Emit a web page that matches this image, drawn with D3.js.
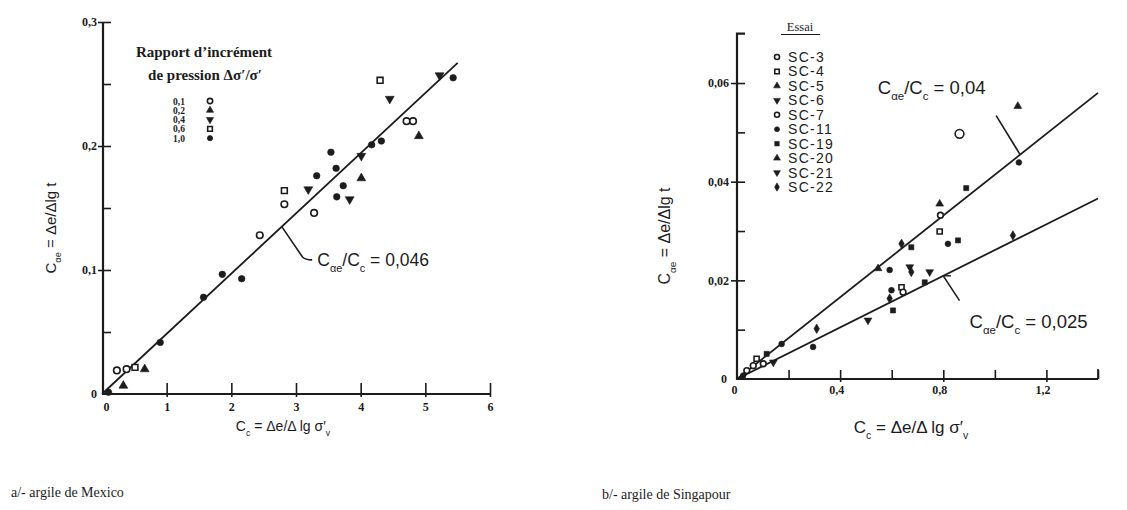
<!DOCTYPE html>
<html><head><meta charset="utf-8">
<script src="https://cdn.jsdelivr.net/npm/d3@7"></script>
<style>body{margin:0;background:#fff}</style>
</head><body>
<svg id="c" width="1127" height="510"></svg>
<script>
// ---------- (a) argile de Mexico ----------
const mexRatioLabels = ["0,1", "0,2", "0,4", "0,6", "1,0"];
const mexCc  = [4.30, 4.45, 5.22, 5.43, 4.71, 4.81, 4.90, 4.32, 4.17, 4.01, 3.54, 3.62, 4.01, 3.32, 3.19, 3.73, 3.63, 3.83, 3.28, 2.82, 2.82, 2.44, 2.16, 1.86, 1.57, 0.90, 0.23, 0.38, 0.51, 0.66, 0.33, 0.10];
const mexCae = [0.253, 0.238, 0.257, 0.255, 0.220, 0.220, 0.208, 0.204, 0.201, 0.192, 0.195, 0.182, 0.174, 0.176, 0.165, 0.168, 0.159, 0.157, 0.146, 0.164, 0.153, 0.128, 0.093, 0.0965, 0.078, 0.0416, 0.019, 0.020, 0.0215, 0.020, 0.0067, 0.0014];
const mexRatio = ["0,6", "0,4", "0,4", "1,0", "0,1", "0,1", "0,2", "1,0", "1,0", "0,4", "1,0", "1,0", "0,2", "1,0", "0,4", "1,0", "1,0", "0,4", "0,1", "0,6", "0,1", "0,1", "1,0", "1,0", "1,0", "1,0", "0,1", "0,1", "0,6", "0,2", "0,2", "1,0"];
const mexFitCc  = [0, 5.5];
const mexFitCae = [0, 0.267];
const mexXTicks = [0, 1, 2, 3, 4, 5, 6];
const mexXTickLabels = ["0", "1", "2", "3", "4", "5", "6"];
const mexYTicks = [0, 0.05, 0.1, 0.15, 0.2, 0.25, 0.3];
const mexYTickLabels = ["0", "", "0,1", "", "0,2", "", "0,3"];

// ---------- (b) argile de Singapour ----------
const sgTests = ["SC-3", "SC-4", "SC-5", "SC-6", "SC-7", "SC-11", "SC-19", "SC-20", "SC-21", "SC-22"];
const sgCc  = [1.089, 0.863, 1.093, 1.070, 0.889, 0.786, 0.789, 0.786, 0.818, 0.857, 0.638, 0.676, 0.547, 0.592, 0.670, 0.676, 0.747, 0.728, 0.638, 0.599, 0.644, 0.592, 0.605, 0.508, 0.309, 0.295, 0.173, 0.115, 0.141, 0.076, 0.102, 0.063, 0.038, 0.024];
const sgCae = [0.0553, 0.0497, 0.0439, 0.0291, 0.0387, 0.0355, 0.0332, 0.0299, 0.0274, 0.0281, 0.0274, 0.0267, 0.0224, 0.0221, 0.0227, 0.0217, 0.0217, 0.0196, 0.0186, 0.0180, 0.0176, 0.0163, 0.0139, 0.0119, 0.0102, 0.0065, 0.0071, 0.0051, 0.0034, 0.0041, 0.0031, 0.0027, 0.0017, 0.0007];
const sgTest = ["SC-20", "SC-7", "SC-11", "SC-22", "SC-19", "SC-5", "SC-3", "SC-4", "SC-11", "SC-19", "SC-22", "SC-19", "SC-20", "SC-11", "SC-6", "SC-22", "SC-21", "SC-19", "SC-4", "SC-11", "SC-3", "SC-22", "SC-19", "SC-21", "SC-22", "SC-11", "SC-11", "SC-19", "SC-21", "SC-4", "SC-3", "SC-7", "SC-3", "SC-11"];
const sgFitCc    = [0, 1.4];
const sgFitUpper = [0, 0.058];
const sgFitLower = [0, 0.0366];
const sgXTicks = [0, 0.2, 0.4, 0.6, 0.8, 1.0, 1.2, 1.4];
const sgXTickLabels = ["0", "", "0,4", "", "0,8", "", "1,2", ""];
const sgYTicks = [0, 0.01, 0.02, 0.03, 0.04, 0.05, 0.06];
const sgYTickLabels = ["0", "", "0,02", "", "0,04", "", "0,06"];

// ---------- drawing ----------
const INK = "#1c1c1c";
const svg = d3.select("#c");
svg.append("rect").attr("width", 1127).attr("height", 510).attr("fill", "#fff");

const SERIF = "'Liberation Serif', 'DejaVu Serif', serif";
const SANS = "'Liberation Sans', Arial, sans-serif";

function sym(g, x, y, style, size) {
  const p = d3.symbol().type(style.type).size(size)();
  g.append("path").attr("d", p)
    .attr("transform", `translate(${x},${y})${style.inv ? " rotate(180)" : ""}`)
    .attr("fill", style.fill ? INK : "#fff")
    .attr("stroke", INK).attr("stroke-width", style.fill ? 0.6 : 1.6);
}

function formula(g, x, y, parts, size, attrs) {
  const t = g.append("text").attr("x", x).attr("y", y)
    .attr("font-family", SANS).attr("font-size", size).attr("fill", INK);
  Object.entries(attrs || {}).forEach(([k, v]) => t.attr(k, v));
  parts.forEach(p => {
    const s = t.append("tspan").text(p.t);
    if (p.sub) s.attr("font-size", size * 0.62).attr("baseline-shift", "sub");
  });
  return t;
}

// ===== Panel a =====
const xL = d3.scaleLinear().domain([0, 6]).range([102, 490]);
const yL = d3.scaleLinear().domain([0, 0.3]).range([394, 22]);
const gA = svg.append("g");

const axXL = gA.append("g").attr("transform", `translate(0,${yL(0)})`)
  .call(d3.axisBottom(xL).tickValues(mexXTicks).tickFormat((d, i) => mexXTickLabels[i]).tickSize(3).tickPadding(5));
axXL.select(".domain").remove();
axXL.selectAll(".tick line").attr("y1", d => d === 0 ? 0 : -11).attr("y2", d => d === 0 ? 0 : 3)
  .attr("stroke", INK).attr("stroke-width", 1.6);
axXL.selectAll(".tick text").attr("font-family", SERIF).attr("font-weight", "bold")
  .attr("font-size", 12).attr("fill", INK).attr("dx", d => d === 0 ? 4 : 0);
gA.append("line").attr("x1", xL(0)).attr("x2", xL(6)).attr("y1", yL(0)).attr("y2", yL(0))
  .attr("stroke", INK).attr("stroke-width", 2.2);

const axYL = gA.append("g").attr("transform", `translate(${xL(0) + 1},0)`)
  .call(d3.axisLeft(yL).tickValues(mexYTicks).tickFormat((d, i) => mexYTickLabels[i]).tickSize(5).tickPadding(3));
axYL.select(".domain").remove();
axYL.selectAll(".tick line").attr("x1", (d, i) => d === 0 ? 0 : (mexYTickLabels[i] ? -5 : 0)).attr("x2", d => d === 0 ? 0 : 8)
  .attr("stroke", INK).attr("stroke-width", 1.6);
axYL.selectAll(".tick text").attr("font-family", SERIF).attr("font-weight", "bold")
  .attr("font-size", 12).attr("fill", INK).attr("x", -6);
gA.append("line").attr("x1", xL(0) + 1).attr("x2", xL(0) + 1).attr("y1", yL(0) + 1).attr("y2", yL(0.3))
  .attr("stroke", INK).attr("stroke-width", 2.2);

gA.append("line").attr("x1", xL(mexFitCc[0])).attr("y1", yL(mexFitCae[0]))
  .attr("x2", xL(mexFitCc[1])).attr("y2", yL(mexFitCae[1]))
  .attr("stroke", INK).attr("stroke-width", 1.8);

const mexStyle = {
  "0,1": {type: d3.symbolCircle, fill: false},
  "0,2": {type: d3.symbolTriangle, fill: true},
  "0,4": {type: d3.symbolTriangle, fill: true, inv: true},
  "0,6": {type: d3.symbolSquare, fill: false},
  "1,0": {type: d3.symbolCircle, fill: true}
};
mexCc.forEach((c, i) => sym(gA, xL(c), yL(mexCae[i]), mexStyle[mexRatio[i]], 34));

const slopeA = mexFitCae[1] / mexFitCc[1];
const lp = d3.path();
lp.moveTo(xL(2.78), yL(2.78 * slopeA));
lp.lineTo(xL(3.10), yL(0.1105));
lp.quadraticCurveTo(xL(3.14), yL(0.1082), xL(3.25), yL(0.1082));
gA.append("path").attr("d", lp.toString()).attr("fill", "none").attr("stroke", INK).attr("stroke-width", 1.6);
formula(gA, xL(3.33), yL(0.1035), [{t: "C"}, {t: "αe", sub: true}, {t: "/C"}, {t: "c", sub: true}, {t: " = 0,046"}], 17.5);

// legend
gA.append("text").attr("x", 204).attr("y", 57).attr("text-anchor", "middle")
  .attr("font-family", SERIF).attr("font-weight", "bold").attr("font-size", 15).attr("fill", INK)
  .text("Rapport d’incrément");
gA.append("text").attr("x", 205).attr("y", 80).attr("text-anchor", "middle")
  .attr("font-family", SERIF).attr("font-weight", "bold").attr("font-size", 15).attr("fill", INK)
  .text("de pression Δσ′/σ′");
mexRatioLabels.forEach((l, i) => {
  const y = 101 + i * 9.3;
  gA.append("text").attr("x", 179).attr("y", y + 3.5).attr("text-anchor", "middle")
    .attr("font-family", SERIF).attr("font-weight", "bold").attr("font-size", 9.5).attr("fill", INK).text(l);
  sym(gA, 210, y, mexStyle[l], 22);
});

formula(gA, 0, 0, [{t: "C"}, {t: "αe", sub: true}, {t: " = Δe/Δlg t"}], 15,
  {transform: "translate(56,228) rotate(-90)", "text-anchor": "middle"});
formula(gA, 283, 431, [{t: "C"}, {t: "c", sub: true}, {t: " = Δe/Δ lg σ′"}, {t: "v", sub: true}], 14,
  {"text-anchor": "middle"});

svg.append("text").attr("x", 11).attr("y", 497).attr("font-family", SERIF).attr("font-size", 14)
  .attr("fill", INK).text("a/- argile de Mexico");

// ===== Panel b =====
const xR = d3.scaleLinear().domain([0, 1.4]).range([737, 1098]);
const yR = d3.scaleLinear().domain([0, 0.07]).range([379, 33.7]);
const gB = svg.append("g");

const axXR = gB.append("g").attr("transform", `translate(0,${yR(0)})`)
  .call(d3.axisBottom(xR).tickValues(sgXTicks).tickFormat((d, i) => sgXTickLabels[i]).tickSize(3).tickPadding(3));
axXR.select(".domain").remove();
axXR.selectAll(".tick line").attr("y1", d => d === 0 ? 0 : -9).attr("y2", (d, i) => (d === 0 ? 0 : (sgXTickLabels[i] ? 3 : 0)))
  .attr("stroke", INK).attr("stroke-width", 1.6);
axXR.selectAll(".tick text").attr("font-family", SERIF).attr("font-weight", "bold")
  .attr("font-size", 12).attr("fill", INK).attr("dx", d => d === 0 ? -3 : -4);
gB.append("line").attr("x1", xR(0)).attr("x2", xR(1.4)).attr("y1", yR(0)).attr("y2", yR(0))
  .attr("stroke", INK).attr("stroke-width", 2.2);

const axYR = gB.append("g").attr("transform", `translate(${xR(0)},0)`)
  .call(d3.axisLeft(yR).tickValues(sgYTicks).tickFormat((d, i) => sgYTickLabels[i]).tickSize(6).tickPadding(3));
axYR.select(".domain").remove();
axYR.selectAll(".tick line").attr("x1", (d, i) => d === 0 ? 0 : (sgYTickLabels[i] ? -6 : 0)).attr("x2", d => d === 0 ? 0 : 8)
  .attr("stroke", INK).attr("stroke-width", 1.6);
axYR.selectAll(".tick text").attr("font-family", SERIF).attr("font-weight", "bold")
  .attr("font-size", 12).attr("fill", INK).attr("x", d => d === 0 ? -10 : -8);
gB.append("path")
  .attr("d", `M${xR(0)},${yR(0) + 1}V${yR(0.07)}h8`)
  .attr("fill", "none").attr("stroke", INK).attr("stroke-width", 2.2);
gB.append("line").attr("x1", xR(1.4)).attr("x2", xR(1.4)).attr("y1", yR(0)).attr("y2", yR(0) - 10)
  .attr("stroke", INK).attr("stroke-width", 1.6);

[sgFitUpper, sgFitLower].forEach(f => {
  gB.append("line").attr("x1", xR(sgFitCc[0])).attr("y1", yR(f[0]))
    .attr("x2", xR(sgFitCc[1])).attr("y2", yR(f[1]))
    .attr("stroke", INK).attr("stroke-width", 1.8);
});

const sgStyle = {
  "SC-3":  {type: d3.symbolCircle, fill: false},
  "SC-4":  {type: d3.symbolSquare, fill: false},
  "SC-5":  {type: d3.symbolTriangle, fill: true},
  "SC-6":  {type: d3.symbolTriangle, fill: true, inv: true},
  "SC-7":  {type: d3.symbolCircle, fill: false},
  "SC-11": {type: d3.symbolCircle, fill: true},
  "SC-19": {type: d3.symbolSquare, fill: true},
  "SC-20": {type: d3.symbolTriangle, fill: true},
  "SC-21": {type: d3.symbolTriangle, fill: true, inv: true},
  "SC-22": {type: d3.symbolDiamond, fill: true}
};
sgCc.forEach((c, i) => sym(gB, xR(c), yR(sgCae[i]), sgStyle[sgTest[i]], sgTest[i] === "SC-7" && i === 1 ? 60 : 26));

const su = sgFitUpper[1] / sgFitCc[1], sl = sgFitLower[1] / sgFitCc[1];
gB.append("line").attr("x1", xR(1.098)).attr("y1", yR(1.098 * su)).attr("x2", xR(1.005)).attr("y2", yR(0.0534))
  .attr("stroke", INK).attr("stroke-width", 1.6);
gB.append("line").attr("x1", xR(0.80)).attr("y1", yR(0.80 * sl)).attr("x2", xR(0.863)).attr("y2", yR(0.0159))
  .attr("stroke", INK).attr("stroke-width", 1.6);
gB.append("line").attr("x1", xR(0.80)).attr("y1", yR(0.80 * sl)).attr("x2", xR(0.83)).attr("y2", yR(0.80 * sl))
  .attr("stroke", INK).attr("stroke-width", 1.4);
formula(gB, xR(0.546), yR(0.0578), [{t: "C"}, {t: "αe", sub: true}, {t: "/C"}, {t: "c", sub: true}, {t: " = 0,04"}], 18.5);
formula(gB, xR(0.902), yR(0.0103), [{t: "C"}, {t: "αe", sub: true}, {t: "/C"}, {t: "c", sub: true}, {t: " = 0,025"}], 18.5);

gB.append("text").attr("x", 800).attr("y", 31).attr("text-anchor", "middle")
  .attr("font-family", SERIF).attr("font-size", 12.5).attr("fill", INK).text("Essai");
gB.append("line").attr("x1", 781).attr("x2", 820).attr("y1", 34.5).attr("y2", 34.5).attr("stroke", INK).attr("stroke-width", 1);
sgTests.forEach((l, i) => {
  const y = 57 + i * 14.45;
  sym(gB, 777, y, sgStyle[l], 20);
  gB.append("text").attr("x", 788).attr("y", y + 5).attr("font-family", SANS).attr("font-size", 14)
    .attr("letter-spacing", 1.3).attr("fill", INK).text(l);
});

formula(gB, 0, 0, [{t: "C"}, {t: "αe", sub: true}, {t: " = Δe/Δlg t"}], 16,
  {transform: "translate(670,236) rotate(-90)", "text-anchor": "middle"});
formula(gB, 911, 433, [{t: "C"}, {t: "c", sub: true}, {t: " = Δe/Δ lg σ′"}, {t: "v", sub: true}], 17,
  {"text-anchor": "middle"});

svg.append("text").attr("x", 602).attr("y", 499).attr("font-family", SERIF).attr("font-size", 14)
  .attr("fill", INK).text("b/- argile de Singapour");
</script>
</body></html>
